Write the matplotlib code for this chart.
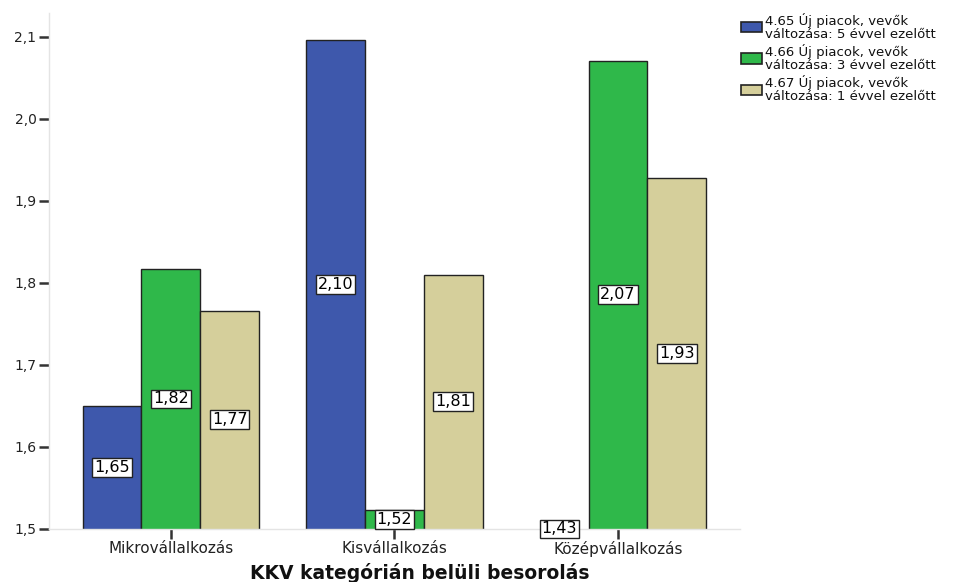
import matplotlib
matplotlib.use("Agg")
import matplotlib.pyplot as plt
import numpy as np
from matplotlib.patches import Patch

plt.rcParams['font.family'] = ['DejaVu Sans']

categories = ["Mikrovállalkozás", "Kisvállalkozás", "Középvállalkozás"]
series_names = [
    "4.65 Új piacok, vevők\nváltozása: 5 évvel ezelőtt",
    "4.66 Új piacok, vevők\nváltozása: 3 évvel ezelőtt",
    "4.67 Új piacok, vevők\nváltozása: 1 évvel ezelőtt",
]
values_5y = [1.65, 2.096, 1.43]
values_3y = [1.817, 1.523, 2.071]
values_1y = [1.766, 1.81, 1.928]
labels_5y = ["1,65", "2,10", "1,43"]
labels_3y = ["1,82", "1,52", "2,07"]
labels_1y = ["1,77", "1,81", "1,93"]
yticks = [1.5, 1.6, 1.7, 1.8, 1.9, 2.0, 2.1]
ytick_labels = ["1,5", "1,6", "1,7", "1,8", "1,9", "2,0", "2,1"]
xlabel = "KKV kategórián belüli besorolás"

colors = ["#3E58AC", "#2FB84A", "#D5CF9B"]
ymin, ymax = 1.5, 2.129

fig = plt.figure(figsize=(9.78, 5.82), dpi=100)
ax = fig.add_axes([0.0501, 0.0911, 0.7065, 0.8866])

x = np.arange(len(categories))
w = 0.263
all_vals = [values_5y, values_3y, values_1y]
all_labels = [labels_5y, labels_3y, labels_1y]
for i, (vals, labs) in enumerate(zip(all_vals, all_labels)):
    pos = x + (i - 1) * w
    ax.bar(pos, vals, width=w, color=colors[i],
           edgecolor="#222222", linewidth=1.0, zorder=2)
    for p, v, lab in zip(pos, vals, labs):
        top = max(v, ymin)
        ymid = (ymin + top) / 2
        ax.text(p, ymid, lab, ha="center", va="center", fontsize=11.5, zorder=5,
                bbox=dict(boxstyle="square,pad=0.12", facecolor="white",
                          edgecolor="#222222", linewidth=1.0), clip_on=False)

ax.set_ylim(ymin, ymax)
ax.set_xlim(-0.545, 2.545)
ax.set_yticks(yticks)
ax.set_yticklabels(ytick_labels, fontsize=10, color="#222222")
ax.set_xticks(x)
ax.set_xticklabels(categories, fontsize=11, color="#222222")
ax.tick_params(axis='y', length=7, width=1.8, color="#333333", pad=2)
ax.tick_params(axis='x', length=7, width=1.8, color="#333333", pad=2)
for s in ["top", "right"]:
    ax.spines[s].set_visible(False)
for s in ["left", "bottom"]:
    ax.spines[s].set_color("#E4E4E4")
    ax.spines[s].set_linewidth(1.0)
fig.text(420 / 978, 3 / 582, xlabel, fontsize=13.5, fontweight="bold",
         ha="center", va="baseline", color="#111111")

handles = [Patch(facecolor=c, edgecolor="#222222", linewidth=1.2) for c in colors]
leg = fig.legend(handles, series_names, loc="upper left", bbox_to_anchor=(0.7577, 0.978),
                 frameon=False, fontsize=9.5, handlelength=1.6, handleheight=0.85,
                 handletextpad=0.2, labelspacing=0.25, borderaxespad=0, borderpad=0)
for t in leg.get_texts():
    t.set_linespacing(1.0)
    t.set_color("#111111")

fig.savefig("out.png", dpi=100)
